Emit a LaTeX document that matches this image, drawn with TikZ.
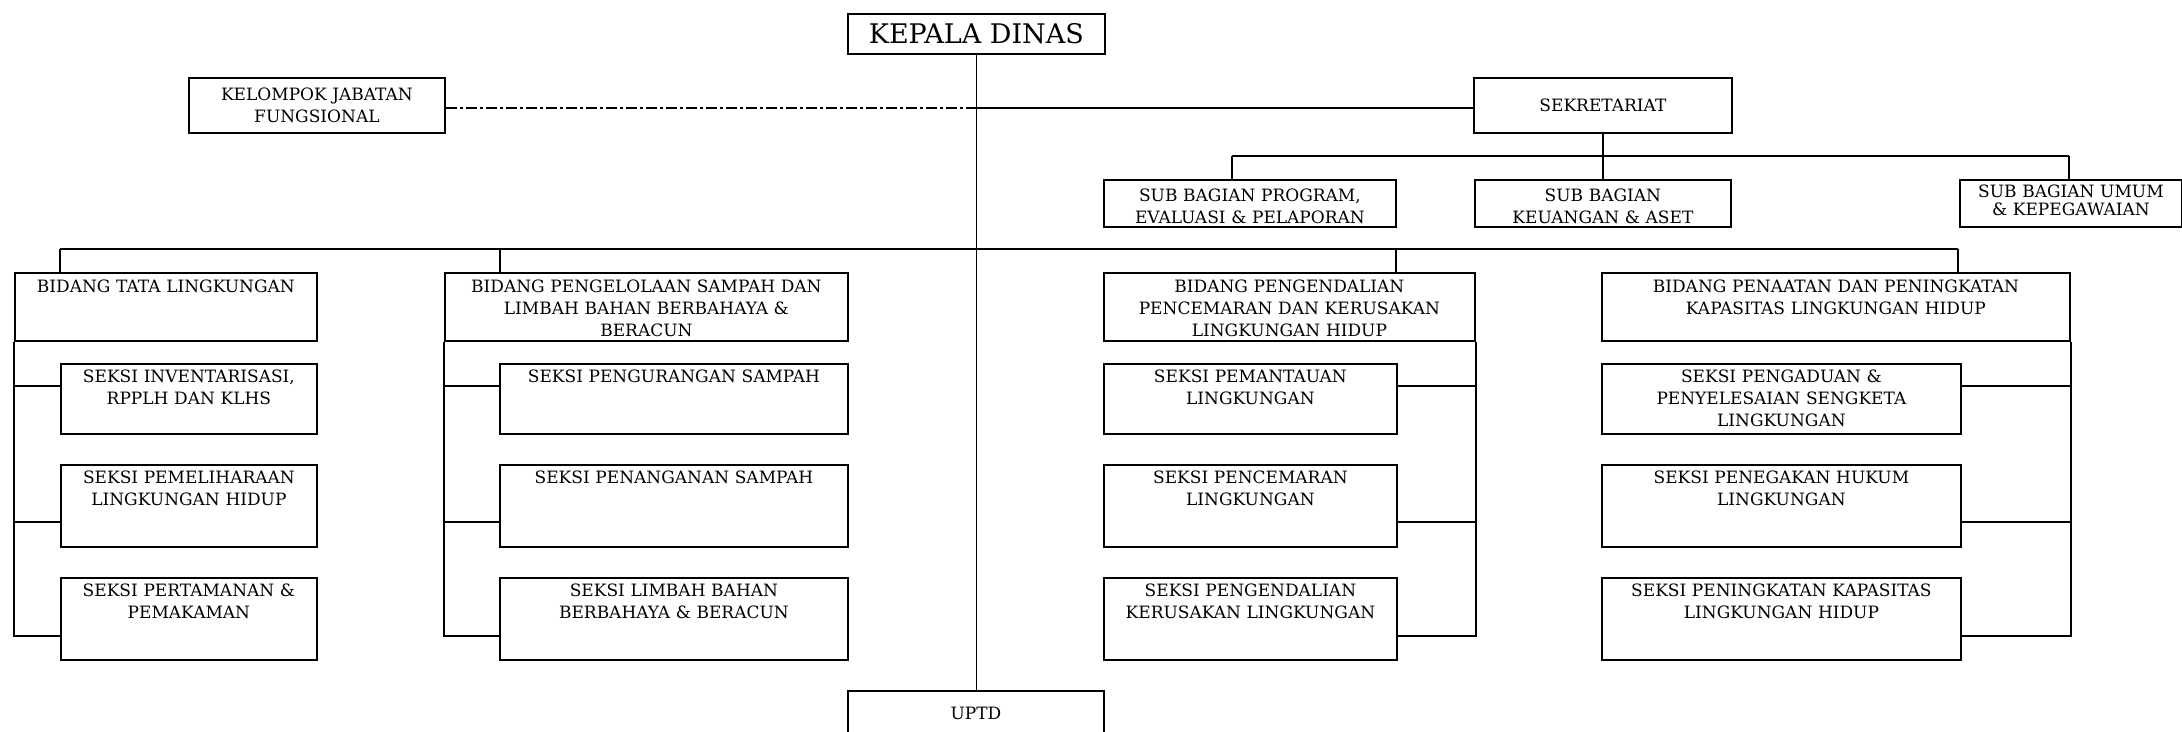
\documentclass[tikz,border=0pt]{standalone}
\usepackage{fontspec}
\setmainfont{DejaVu Serif}
\usetikzlibrary{positioning}

\newcommand{\orgfont}{\fontsize{17}{22}\selectfont}

\tikzset{
  orgbox/.style={draw, line width=1.8pt, inner xsep=2pt, inner ysep=0pt, align=center, anchor=north west, font=\orgfont},
  bidangbox/.style={orgbox, text height=20pt, text depth=48pt},
  seksibox/.style={orgbox, text height=19pt},
  subbox/.style={orgbox, text height=22pt, text depth=25pt},
  link/.style={line width=1.6pt},
}

\begin{document}
\begin{tikzpicture}[x=1pt, y=-1pt]
        \useasboundingbox (0,0) rectangle (2182,731);

        \node[draw, line width=1.7pt, minimum width=257pt, minimum height=40pt, inner sep=0pt, anchor=north west, font=\fontsize{27}{30}\selectfont] (kd) at (847,13) {KEPALA DINAS};
        \node[orgbox, minimum width=256pt, minimum height=55pt] (kjf) at (188,77) {KELOMPOK JABATAN\\FUNGSIONAL};
        \node[orgbox, minimum width=258pt, minimum height=55pt] (sek) at (1473,77) {SEKRETARIAT};

        \node[subbox, text width=288pt] (sbp) at (1103,179) {SUB BAGIAN PROGRAM,\\EVALUASI \& PELAPORAN};
        \node[subbox, text width=252pt] (sbk) at (1474,179) {SUB BAGIAN\\KEUANGAN \& ASET};
        \node[subbox, text width=218pt, text height=18pt, text depth=29pt, font=\fontsize{17}{17.3}\selectfont] (sbu) at (1959,179) {SUB BAGIAN UMUM\\\& KEPEGAWAIAN};

        \node[bidangbox, text width=298pt] (b1) at (14,272) {BIDANG TATA LINGKUNGAN};
        \node[bidangbox, text width=399pt] (b2) at (444,272) {BIDANG PENGELOLAAN SAMPAH DAN\\LIMBAH BAHAN BERBAHAYA \&\\BERACUN};
        \node[bidangbox, text width=367pt] (b3) at (1103,272) {BIDANG PENGENDALIAN\\PENCEMARAN DAN KERUSAKAN\\LINGKUNGAN HIDUP};
        \node[bidangbox, text width=464pt] (b4) at (1601,272) {BIDANG PENAATAN DAN PENINGKATAN\\KAPASITAS LINGKUNGAN HIDUP};

        \node[seksibox, text width=252pt, text depth=51pt] (s11) at (60,363) {SEKSI INVENTARISASI,\\RPPLH DAN KLHS};
        \node[seksibox, text width=252pt, text depth=63pt] (s12) at (60,464) {SEKSI PEMELIHARAAN\\LINGKUNGAN HIDUP};
        \node[seksibox, text width=252pt, text depth=63pt] (s13) at (60,577) {SEKSI PERTAMANAN \&\\PEMAKAMAN};

        \node[seksibox, text width=344pt, text depth=51pt] (s21) at (499,363) {SEKSI PENGURANGAN SAMPAH};
        \node[seksibox, text width=344pt, text depth=63pt] (s22) at (499,464) {SEKSI PENANGANAN SAMPAH};
        \node[seksibox, text width=344pt, text depth=63pt] (s23) at (499,577) {SEKSI LIMBAH BAHAN\\BERBAHAYA \& BERACUN};

        \node[seksibox, text width=289pt, text depth=51pt] (s31) at (1103,363) {SEKSI PEMANTAUAN\\LINGKUNGAN};
        \node[seksibox, text width=289pt, text depth=63pt] (s32) at (1103,464) {SEKSI PENCEMARAN\\LINGKUNGAN};
        \node[seksibox, text width=289pt, text depth=63pt] (s33) at (1103,577) {SEKSI PENGENDALIAN\\KERUSAKAN LINGKUNGAN};

        \node[seksibox, text width=355pt, text depth=51pt] (s41) at (1601,363) {SEKSI PENGADUAN \&\\PENYELESAIAN SENGKETA\\LINGKUNGAN};
        \node[seksibox, text width=355pt, text depth=63pt] (s42) at (1601,464) {SEKSI PENEGAKAN HUKUM\\LINGKUNGAN};
        \node[seksibox, text width=355pt, text depth=63pt] (s43) at (1601,577) {SEKSI PENINGKATAN KAPASITAS\\LINGKUNGAN HIDUP};

        \node[orgbox, text width=252pt, text height=29pt, text depth=60pt] (uptd) at (847,690) {UPTD};

        \coordinate (mid) at (975,108);
        \coordinate (sbus1) at (1232,156);
        \coordinate (sbus2) at (2069,156);
        \coordinate (bus1) at (60,249);
        \coordinate (bus2) at (500,249);
        \coordinate (bus3) at (1396,249);
        \coordinate (bus4) at (1958,249);
        \coordinate (row1) at (0,386);
        \coordinate (row2) at (0,522);
        \coordinate (row3) at (0,636);

        \draw[line width=1.2pt] (kd.south) -- (kd.south |- uptd.north);
        \draw[link, dash pattern=on 11pt off 3pt on 3pt off 3pt] (kjf.east |- mid) -- (mid);
        \draw[link] (mid) -- (sek.west |- mid);

        \draw[link] (sek.south) -- (sek.south |- sbk.north);
        \draw[link] (sbus1) -- (sbus2);
        \draw[link] (sbus1) -- (sbus1 |- sbp.north);
        \draw[link] (sbus2) -- (sbus2 |- sbu.north);

        \draw[link] (bus1) -- (bus4);
        \draw[link] (bus1) -- (bus1 |- b1.north);
        \draw[link] (bus2) -- (bus2 |- b2.north);
        \draw[link] (bus3) -- (bus3 |- b3.north);
        \draw[link] (bus4) -- (bus4 |- b4.north);

        \draw[link] (b1.south west) |- (s13.west |- row3);
        \draw[link] (b1.south west |- row1) -- (s11.west |- row1);
        \draw[link] (b1.south west |- row2) -- (s12.west |- row2);

        \draw[link] (b2.south west) |- (s23.west |- row3);
        \draw[link] (b2.south west |- row1) -- (s21.west |- row1);
        \draw[link] (b2.south west |- row2) -- (s22.west |- row2);

        \draw[link] (b3.south east) |- (s33.east |- row3);
        \draw[link] (b3.south east |- row1) -- (s31.east |- row1);
        \draw[link] (b3.south east |- row2) -- (s32.east |- row2);

        \draw[link] (b4.south east) |- (s43.east |- row3);
        \draw[link] (b4.south east |- row1) -- (s41.east |- row1);
        \draw[link] (b4.south east |- row2) -- (s42.east |- row2);
      \end{tikzpicture}
\end{document}
